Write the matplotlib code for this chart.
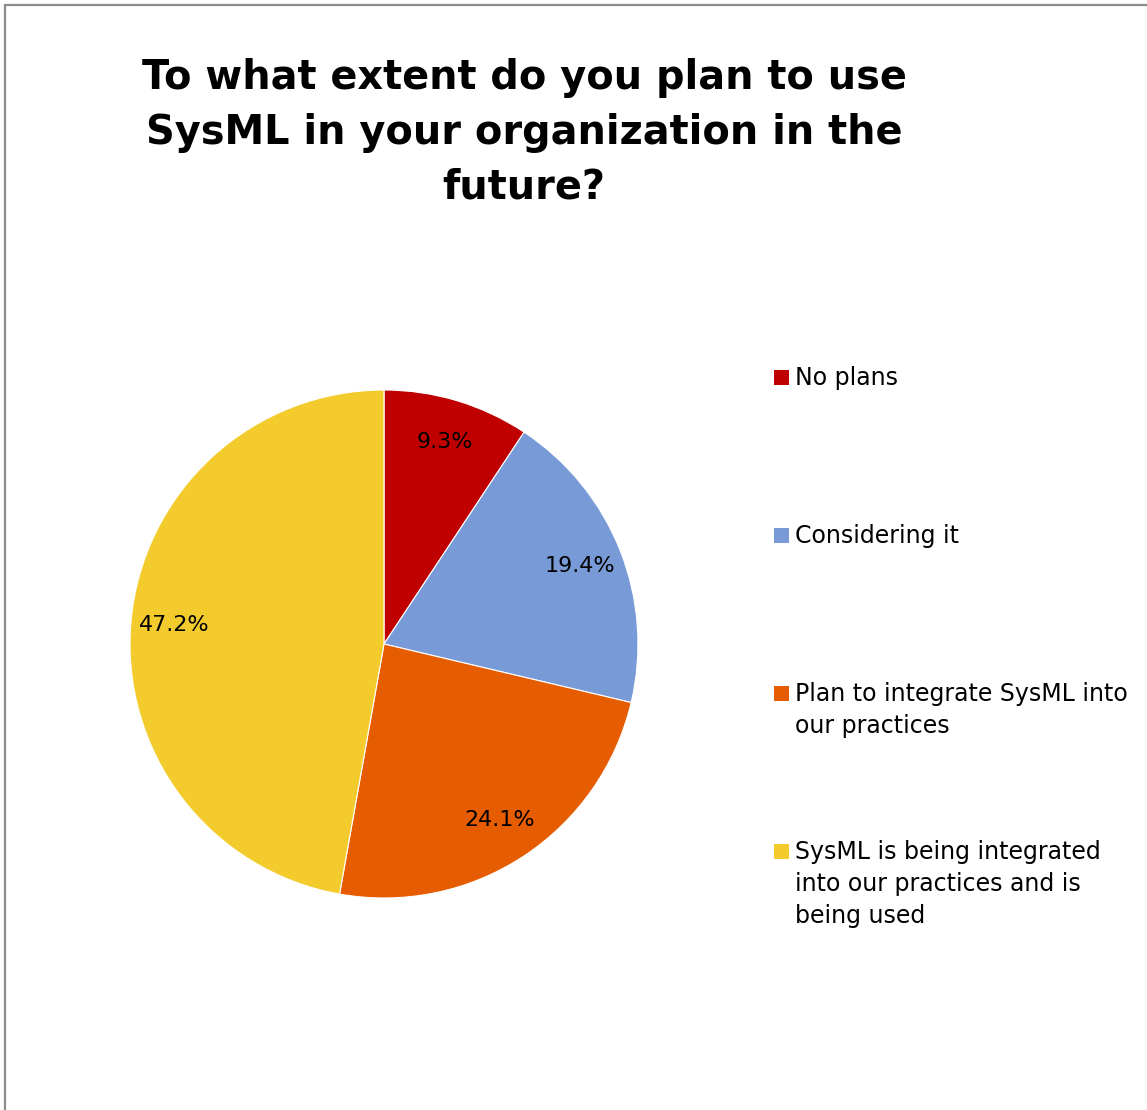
import matplotlib
matplotlib.use("Agg")
import matplotlib.pyplot as plt
from matplotlib.patches import Rectangle

plt.rcParams["font.family"] = ["DejaVu Sans"]

TITLE = "To what extent do you plan to use\nSysML in your organization in the\nfuture?"
LABELS = [
    "No plans",
    "Considering it",
    "Plan to integrate SysML into\nour practices",
    "SysML is being integrated\ninto our practices and is\nbeing used",
]
SHARES = [9.3, 19.4, 24.1, 47.2]
COLORS = ["#C00000", "#789BD8", "#E65C00", "#F4CB2D"]

W, H = 1147, 1110
fig = plt.figure(figsize=(W / 100, H / 100), dpi=100)

# grey frame around the chart area
fig.patches.append(Rectangle((5 / W, -0.05), 1.2, 1 - 5 / H + 0.05,
                             transform=fig.transFigure, fill=False,
                             edgecolor="#8c8c8c", lw=1.6))

fig.text(524 / W, 1 - 58 / H, TITLE, ha="center", va="top",
         fontsize=28.7, fontweight="bold", linespacing=1.48)

# pie, centre (384, 644) px, radius 254 px
cx, cy, r = 384, 644, 254
ax = fig.add_axes([(cx - r) / W, (H - cy - r) / H, 2 * r / W, 2 * r / H])
wedges, texts, autotexts = ax.pie(
    SHARES, colors=COLORS, startangle=90, counterclock=False,
    autopct="%.1f%%", pctdistance=0.83, radius=1,
    wedgeprops=dict(edgecolor="white", linewidth=0.8),
    textprops=dict(fontsize=16, color="black"))
ax.set_xlim(-1, 1)
ax.set_ylim(-1, 1)
ax.set_aspect("equal")
ax.axis("off")

# legend, entries evenly spaced by their first line
leg_top = 377
leg_step = 158
for i, (lab, col) in enumerate(zip(LABELS, COLORS)):
    y = leg_top + i * leg_step
    fig.patches.append(Rectangle((774 / W, 1 - (y + 8) / H), 15 / W, 15 / H,
                                 transform=fig.transFigure, facecolor=col,
                                 edgecolor="none"))
    fig.text(795 / W, 1 - (y - 11) / H, lab, ha="left", va="top",
             fontsize=17, linespacing=1.42)

fig.savefig("out.png", dpi=100)
